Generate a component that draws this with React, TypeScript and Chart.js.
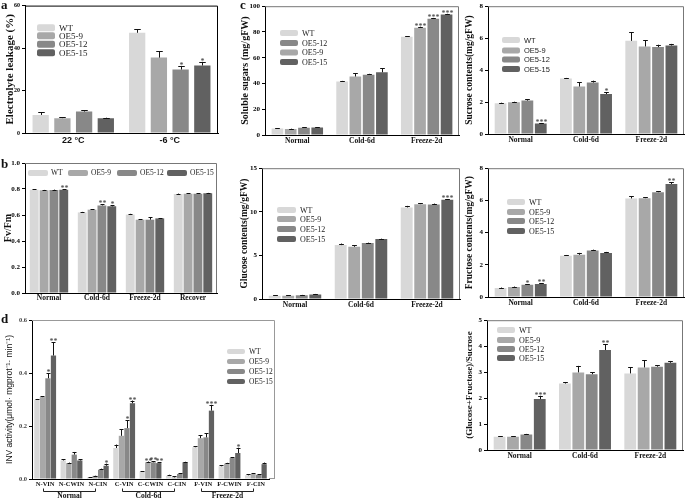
import React, { useEffect, useRef } from 'react';
import { Chart, registerables } from 'chart.js';

Chart.register(...registerables);

const SERIF = "'Liberation Serif', 'Times New Roman', serif";
const SANS = "'Liberation Sans', Arial, sans-serif";

const seriesNames = ['WT', 'OE5-9', 'OE5-12', 'OE5-15'];
const seriesColors = ['#d8d8d8', '#a8a8a8', '#888888', '#616161'];

// ---------- Panel a: electrolyte leakage ----------
const aCategories = ['22 °C', '-6 °C'];
const aWT = [8.5, 47.2];
const aOE59 = [7.0, 35.5];
const aOE512 = [10.1, 29.9];
const aOE515 = [7.0, 31.8];
const aWTErr = [1.3, 1.6];
const aOE59Err = [0.3, 3.1];
const aOE512Err = [0.5, 1.7];
const aOE515Err = [0.2, 1.7];
const aOE512Stars = ['', '*'];
const aOE515Stars = ['', '*'];

// ---------- Panel b: Fv/Fm ----------
const bCategories = ['Normal', 'Cold-6d', 'Freeze-2d', 'Recover'];
const bWT = [0.795, 0.62, 0.603, 0.762];
const bOE59 = [0.79, 0.641, 0.564, 0.764];
const bOE512 = [0.792, 0.674, 0.564, 0.764];
const bOE515 = [0.795, 0.667, 0.574, 0.767];
const bWTErr = [0.004, 0.004, 0.006, 0.003];
const bOE59Err = [0.003, 0.003, 0.004, 0.003];
const bOE512Err = [0.003, 0.01, 0.02, 0.003];
const bOE515Err = [0.005, 0.008, 0.003, 0.003];
const bOE512Stars = ['', '**', '', ''];
const bOE515Stars = ['**', '*', '', ''];

// ---------- Panel d: INV activity ----------
const dCategories = ['N-VIN', 'N-CWIN', 'N-CIN', 'C-VIN', 'C-CWIN', 'C-CIN', 'F-VIN', 'F-CWIN', 'F-CIN'];
const dGroups = ['Normal', 'Cold-6d', 'Freeze-2d'];
const dWT = [0.299, 0.07, 0.006, 0.117, 0.028, 0.012, 0.12, 0.048, 0.014];
const dOE59 = [0.309, 0.06, 0.012, 0.163, 0.063, 0.006, 0.154, 0.058, 0.019];
const dOE512 = [0.38, 0.092, 0.035, 0.192, 0.063, 0.019, 0.157, 0.079, 0.016];
const dOE515 = [0.466, 0.07, 0.05, 0.286, 0.06, 0.063, 0.258, 0.098, 0.056];
const dWTErr = [0.003, 0.005, 0.001, 0.013, 0.002, 0.004, 0.003, 0.003, 0.004];
const dOE59Err = [0.003, 0.002, 0.001, 0.025, 0.003, 0.005, 0.012, 0.003, 0.003];
const dOE512Err = [0.02, 0.01, 0.004, 0.03, 0.004, 0.003, 0.015, 0.004, 0.002];
const dOE515Err = [0.05, 0.005, 0.008, 0.01, 0.004, 0.002, 0.022, 0.02, 0.006];
const dOE59Stars = ['', '', '', '', '**', '', '', '', ''];
const dOE512Stars = ['*', '', '', '*', '**', '', '', '', ''];
const dOE515Stars = ['**', '', '*', '**', '**', '', '***', '*', ''];

// ---------- Panel c: sugars ----------
const cCategories = ['Normal', 'Cold-6d', 'Freeze-2d'];

const solWT = [5.1, 41.5, 76.2];
const solOE59 = [4.6, 45.4, 83.3];
const solOE512 = [5.6, 46.7, 90.3];
const solOE515 = [5.9, 48.7, 93.6];
const solWTErr = [0.3, 0.5, 0.3];
const solOE59Err = [0.3, 2.5, 0.8];
const solOE512Err = [0.3, 0.8, 0.6];
const solOE515Err = [0.3, 3.3, 0.5];
const solOE59Stars = ['', '', '***'];
const solOE512Stars = ['', '', '***'];
const solOE515Stars = ['', '', '***'];

const sucWT = [1.93, 3.47, 5.83];
const sucOE59 = [1.99, 2.97, 5.48];
const sucOE512 = [2.09, 3.22, 5.44];
const sucOE515 = [0.66, 2.5, 5.54];
const sucWTErr = [0.03, 0.04, 0.55];
const sucOE59Err = [0.03, 0.27, 0.38];
const sucOE512Err = [0.07, 0.12, 0.15];
const sucOE515Err = [0.03, 0.12, 0.1];
const sucOE515Stars = ['***', '*', ''];

const gluWT = [0.38, 6.18, 10.5];
const gluOE59 = [0.38, 5.99, 10.88];
const gluOE512 = [0.42, 6.41, 10.84];
const gluOE515 = [0.53, 6.87, 11.37];
const gluWTErr = [0.05, 0.18, 0.18];
const gluOE59Err = [0.05, 0.2, 0.12];
const gluOE512Err = [0.05, 0.05, 0.1];
const gluOE515Err = [0.05, 0.05, 0.08];
const gluOE515Stars = ['', '', '***'];

const fruWT = [0.56, 2.56, 6.12];
const fruOE59 = [0.62, 2.62, 6.14];
const fruOE512 = [0.76, 2.89, 6.51];
const fruOE515 = [0.81, 2.73, 7.02];
const fruWTErr = [0.03, 0.05, 0.15];
const fruOE59Err = [0.03, 0.12, 0.05];
const fruOE512Err = [0.04, 0.05, 0.05];
const fruOE515Err = [0.05, 0.07, 0.12];
const fruOE512Stars = ['*', '', ''];
const fruOE515Stars = ['**', '', '**'];

const ratWT = [0.51, 2.56, 2.95];
const ratOE59 = [0.51, 2.99, 3.18];
const ratOE512 = [0.6, 2.92, 3.21];
const ratOE515 = [1.96, 3.85, 3.36];
const ratWTErr = [0.02, 0.06, 0.23];
const ratOE59Err = [0.02, 0.25, 0.27];
const ratOE512Err = [0.02, 0.07, 0.06];
const ratOE515Err = [0.13, 0.22, 0.07];
const ratOE515Stars = ['***', '**', ''];

type LegendSpec = {
  xs: number[];
  ys: number[];
  sw: number;
  sh: number;
  gap: number;
  font: string;
  order: number[];
};

type Spec = {
  key: string;
  plot: { l: number; t: number; r: number; b: number };
  frameExtraR?: number;
  padT: number;
  padR: number;
  xAxisH: number;
  title: string;
  titleX: number;
  titleSize: number;
  titleFamily: string;
  titleWeight?: string;
  yMax: number;
  yStep: number;
  yDec: number;
  tickSize: number;
  tickColor: string;
  categories: string[];
  catFamily: string;
  catSize: number;
  catPad: number;
  values: number[][];
  errors: number[][];
  stars: (string[] | null)[];
  catPct: number;
  barPct: number;
  frameColor: string;
  legend: LegendSpec;
  brackets?: { labels: string[]; size: number };
};

function makePlugins(spec: Spec, ox: number, oy: number) {
  const frame = {
    id: 'frameBox',
    beforeDatasetsDraw(chart: any) {
      const { left, top, right, bottom } = chart.chartArea;
      const ctx = chart.ctx;
      const rx = right + (spec.frameExtraR || 0) - 0.5;
      ctx.save();
      ctx.strokeStyle = spec.frameColor;
      ctx.lineWidth = 1;
      ctx.beginPath();
      ctx.moveTo(left, top + 0.5);
      ctx.lineTo(rx, top + 0.5);
      ctx.lineTo(rx, bottom);
      if (spec.frameExtraR) {
        ctx.moveTo(right, bottom - 0.5);
        ctx.lineTo(rx, bottom - 0.5);
      }
      ctx.stroke();
      ctx.restore();
    },
  };
  const errorBars = {
    id: 'errorBars',
    afterDatasetsDraw(chart: any) {
      const ctx = chart.ctx;
      const ys = chart.scales.y;
      ctx.save();
      chart.data.datasets.forEach((ds: any, i: number) => {
        const meta = chart.getDatasetMeta(i);
        meta.data.forEach((bar: any, j: number) => {
          const v = spec.values[i][j];
          const e = spec.errors[i][j] || 0;
          const yTop = ys.getPixelForValue(v + e);
          const capW = Math.max(4, bar.width * 0.4);
          const x = Math.round(bar.x) + 0.5;
          ctx.strokeStyle = '#111';
          ctx.lineWidth = 1;
          ctx.beginPath();
          ctx.moveTo(x, bar.y);
          ctx.lineTo(x, yTop);
          ctx.moveTo(x - capW / 2, Math.round(yTop) + 0.5);
          ctx.lineTo(x + capW / 2, Math.round(yTop) + 0.5);
          ctx.stroke();
          const st = spec.stars[i];
          if (st && st[j]) {
            ctx.fillStyle = '#333';
            ctx.font = `8px ${SERIF}`;
            ctx.textAlign = 'center';
            ctx.textBaseline = 'alphabetic';
            ctx.fillText(st[j], x, yTop + 2);
          }
        });
      });
      ctx.restore();
    },
  };
  const legend = {
    id: 'panelLegend',
    afterDraw(chart: any) {
      const L = spec.legend;
      const ctx = chart.ctx;
      ctx.save();
      ctx.font = L.font;
      ctx.textAlign = 'left';
      ctx.textBaseline = 'middle';
      L.order.forEach((si, k) => {
        const x = L.xs[k] - ox;
        const y = L.ys[k] - oy;
        ctx.fillStyle = seriesColors[si];
        ctx.beginPath();
        if ((ctx as any).roundRect) (ctx as any).roundRect(x, y - L.sh / 2, L.sw, L.sh, 2);
        else ctx.rect(x, y - L.sh / 2, L.sw, L.sh);
        ctx.fill();
        ctx.fillStyle = '#222';
        ctx.fillText(seriesNames[si], x + L.sw + L.gap, y + 0.5);
      });
      ctx.restore();
    },
  };
  const brackets = {
    id: 'groupBrackets',
    afterDraw(chart: any) {
      if (!spec.brackets) return;
      const ctx = chart.ctx;
      const xs = chart.scales.x;
      const yLine = chart.chartArea.bottom + 12.5;
      ctx.save();
      ctx.strokeStyle = '#222';
      ctx.lineWidth = 1;
      ctx.fillStyle = '#111';
      ctx.font = `bold ${spec.brackets.size}px ${SERIF}`;
      ctx.textAlign = 'center';
      ctx.textBaseline = 'middle';
      spec.brackets.labels.forEach((lab, g) => {
        const x1 = Math.round(xs.getPixelForValue(g * 3) - 2) + 0.5;
        const x2 = Math.round(xs.getPixelForValue(g * 3 + 2) - 3) + 0.5;
        ctx.beginPath();
        ctx.moveTo(x1, yLine - 3);
        ctx.lineTo(x1, yLine);
        ctx.lineTo(x2, yLine);
        ctx.lineTo(x2, yLine - 3);
        ctx.stroke();
        ctx.fillText(lab, (x1 + x2) / 2, yLine + 4.5);
      });
      ctx.restore();
    },
  };
  return [frame, errorBars, legend, brackets];
}

function BarPanel({ spec }: { spec: Spec }) {
  const ref = useRef<HTMLCanvasElement | null>(null);
  const lh = spec.titleSize * 1.2;
  const left = Math.floor(spec.titleX - lh / 2 - 1);
  const top = spec.plot.t - spec.padT;
  const w = spec.plot.r + spec.padR - left;
  const h = spec.plot.b + spec.xAxisH - top;
  const yAxisW = spec.plot.l - left;
  const titlePad = spec.titleX - left - lh / 2;

  useEffect(() => {
    const canvas = ref.current;
    if (!canvas) return;
    const datasets = spec.values.map((vals, i) => ({
      label: seriesNames[i],
      data: vals,
      backgroundColor: seriesColors[i],
      borderWidth: 0,
      categoryPercentage: spec.catPct,
      barPercentage: spec.barPct,
    }));
    const chart = new Chart(canvas, {
      type: 'bar',
      data: { labels: spec.categories, datasets },
      options: {
        responsive: false,
        animation: false,
        devicePixelRatio: 1,
        layout: { padding: { left: 0, top: spec.padT, right: spec.padR, bottom: 0 } },
        plugins: {
          legend: { display: false },
          tooltip: { enabled: false },
        },
        scales: {
          x: {
            type: 'category',
            grid: { display: false, drawTicks: false },
            border: { display: true, color: '#000', width: 1 },
            ticks: {
              color: '#111',
              padding: spec.catPad,
              maxRotation: 0,
              autoSkip: false,
              font: { family: spec.catFamily, size: spec.catSize, weight: 'bold' },
            },
            afterFit: (s: any) => {
              s.height = spec.xAxisH;
            },
          },
          y: {
            min: 0,
            max: spec.yMax,
            ticks: {
              stepSize: spec.yStep,
              color: spec.tickColor,
              padding: 2,
              font: { family: SERIF, size: spec.tickSize, weight: 'bold' },
              callback: (v: any) => Number(v).toFixed(spec.yDec),
            },
            grid: { drawOnChartArea: false, drawTicks: true, tickLength: 3, color: '#000' },
            border: { display: true, color: '#000', width: 1 },
            title: {
              display: true,
              text: spec.title,
              color: '#111',
              padding: { top: titlePad, bottom: 0 },
              font: { family: spec.titleFamily, size: spec.titleSize, weight: spec.titleWeight || 'bold' },
            },
            afterFit: (s: any) => {
              s.width = yAxisW;
            },
          },
        },
      } as any,
      plugins: makePlugins(spec, left, top) as any,
    });
    return () => chart.destroy();
  }, []);

  return (
    <canvas
      ref={ref}
      width={w}
      height={h}
      style={{ position: 'absolute', left, top, width: w, height: h }}
    />
  );
}

const vLegend = (x: number, ys: number[], font: string, sw = 18, sh = 6, order = [0, 1, 2, 3]): LegendSpec => ({
  xs: [x, x, x, x],
  ys,
  sw,
  sh,
  gap: 4,
  font,
  order,
});

const cBase = {
  padR: 4,
  xAxisH: 14,
  titleFamily: SERIF,
  yDec: 0,
  tickSize: 7,
  tickColor: '#000',
  categories: cCategories,
  catFamily: SERIF,
  catSize: 7.5,
  catPad: 2,
  catPct: 0.82,
  barPct: 0.88,
  frameColor: '#777',
};

const specs: Spec[] = [
  {
    key: 'a',
    plot: { l: 25, t: 5, r: 218, b: 133 },
    padT: 5,
    padR: 4,
    xAxisH: 15,
    title: 'Electrolyte leakage (%)',
    titleX: 10,
    titleSize: 11,
    titleFamily: SERIF,
    yMax: 60,
    yStep: 20,
    yDec: 0,
    tickSize: 6,
    tickColor: '#000',
    categories: aCategories,
    catFamily: SANS,
    catSize: 9,
    catPad: 2,
    values: [aWT, aOE59, aOE512, aOE515],
    errors: [aWTErr, aOE59Err, aOE512Err, aOE515Err],
    stars: [null, null, aOE512Stars, aOE515Stars],
    catPct: 0.9,
    barPct: 0.75,
    frameColor: '#000',
    legend: vLegend(37, [27.7, 35.7, 44.3, 52.7], `9px ${SERIF}`, 18, 7),
  },
  {
    key: 'b',
    plot: { l: 25, t: 163, r: 217, b: 293 },
    padT: 7,
    padR: 4,
    xAxisH: 13,
    title: 'Fv/Fm',
    titleX: 8,
    titleSize: 10,
    titleFamily: SERIF,
    yMax: 1,
    yStep: 0.2,
    yDec: 1,
    tickSize: 7,
    tickColor: '#000',
    categories: bCategories,
    catFamily: SERIF,
    catSize: 7.5,
    catPad: 1,
    values: [bWT, bOE59, bOE512, bOE515],
    errors: [bWTErr, bOE59Err, bOE512Err, bOE515Err],
    stars: [null, null, bOE512Stars, bOE515Stars],
    catPct: 0.82,
    barPct: 0.9,
    frameColor: '#777',
    legend: { xs: [28, 68, 117, 167], ys: [173, 173, 173, 173], sw: 20, sh: 6, gap: 3, font: `7.5px ${SERIF}`, order: [0, 1, 2, 3] },
  },
  {
    key: 'd',
    plot: { l: 32, t: 320, r: 269, b: 479 },
    frameExtraR: 6,
    padT: 8,
    padR: 10,
    xAxisH: 20,
    title: 'INV activity(μmol· mgprot⁻¹· min⁻¹)',
    titleX: 10,
    titleSize: 8.5,
    titleFamily: SANS,
    titleWeight: 'normal',
    yMax: 0.6,
    yStep: 0.2,
    yDec: 1,
    tickSize: 6.5,
    tickColor: '#444',
    categories: dCategories,
    catFamily: SERIF,
    catSize: 6.5,
    catPad: 1,
    values: [dWT, dOE59, dOE512, dOE515],
    errors: [dWTErr, dOE59Err, dOE512Err, dOE515Err],
    stars: [null, dOE59Stars, dOE512Stars, dOE515Stars],
    catPct: 0.84,
    barPct: 0.95,
    frameColor: '#999',
    legend: vLegend(227, [351.5, 361.5, 371.5, 381.5], `7.5px ${SERIF}`, 18, 5),
    brackets: { labels: dGroups, size: 7.5 },
  },
  {
    ...cBase,
    key: 'c1',
    plot: { l: 265, t: 5, r: 459, b: 135 },
    padT: 5,
    title: 'Soluble sugars (mg/gFW)',
    titleX: 245,
    titleSize: 10,
    yMax: 100,
    yStep: 20,
    values: [solWT, solOE59, solOE512, solOE515],
    errors: [solWTErr, solOE59Err, solOE512Err, solOE515Err],
    stars: [null, solOE59Stars, solOE512Stars, solOE515Stars],
    legend: vLegend(280, [33, 43, 52.5, 62], `8px ${SERIF}`, 18, 6, [0, 2, 1, 3]),
  },
  {
    ...cBase,
    key: 'c2',
    plot: { l: 488, t: 4, r: 684, b: 134 },
    padT: 4,
    padR: 1,
    title: 'Sucrose contents(mg/gFW)',
    titleX: 470,
    titleSize: 9.5,
    yMax: 8,
    yStep: 2,
    values: [sucWT, sucOE59, sucOE512, sucOE515],
    errors: [sucWTErr, sucOE59Err, sucOE512Err, sucOE515Err],
    stars: [null, null, null, sucOE515Stars],
    legend: vLegend(502, [40, 50.5, 59.5, 69], `7.5px ${SANS}`),
  },
  {
    ...cBase,
    key: 'c3',
    plot: { l: 262, t: 168, r: 460, b: 299 },
    padT: 6,
    title: 'Glucose contents(mg/gFW)',
    titleX: 245,
    titleSize: 9.5,
    yMax: 15,
    yStep: 5,
    values: [gluWT, gluOE59, gluOE512, gluOE515],
    errors: [gluWTErr, gluOE59Err, gluOE512Err, gluOE515Err],
    stars: [null, null, null, gluOE515Stars],
    legend: vLegend(277, [210, 219, 229, 239], `8px ${SERIF}`, 19),
  },
  {
    ...cBase,
    key: 'c4',
    plot: { l: 488, t: 168, r: 684, b: 297 },
    padT: 6,
    padR: 1,
    title: 'Fructose contents(mg/gFW)',
    titleX: 470,
    titleSize: 9.5,
    yMax: 8,
    yStep: 2,
    values: [fruWT, fruOE59, fruOE512, fruOE515],
    errors: [fruWTErr, fruOE59Err, fruOE512Err, fruOE515Err],
    stars: [null, null, fruOE512Stars, fruOE515Stars],
    legend: vLegend(507, [202, 212, 221, 231], `8px ${SERIF}`),
  },
  {
    ...cBase,
    key: 'c5',
    plot: { l: 487, t: 320, r: 683, b: 450 },
    padT: 6,
    padR: 1,
    title: '(Glucose+Fructose)/Sucrose',
    titleX: 470,
    titleSize: 9,
    yMax: 5,
    yStep: 1,
    values: [ratWT, ratOE59, ratOE512, ratOE515],
    errors: [ratWTErr, ratOE59Err, ratOE512Err, ratOE515Err],
    stars: [null, null, null, ratOE515Stars],
    legend: vLegend(497, [330, 340, 349, 358], `8px ${SERIF}`),
  },
];

const letterStyle = (left: number, top: number): React.CSSProperties => ({
  position: 'absolute',
  left,
  top,
  fontFamily: SERIF,
  fontWeight: 'bold',
  fontSize: 13,
  lineHeight: '13px',
  color: '#111',
});

export default function App() {
  return (
    <div
      style={{
        position: 'absolute',
        left: 0,
        top: 0,
        width: 685,
        height: 499,
        background: '#fff',
        overflow: 'hidden',
      }}
    >
      {specs.map((s) => (
        <BarPanel key={s.key} spec={s} />
      ))}
      <div style={letterStyle(1, -2)}>a</div>
      <div style={letterStyle(1, 157)}>b</div>
      <div style={letterStyle(240, -2)}>c</div>
      <div style={letterStyle(1, 312)}>d</div>
    </div>
  );
}
